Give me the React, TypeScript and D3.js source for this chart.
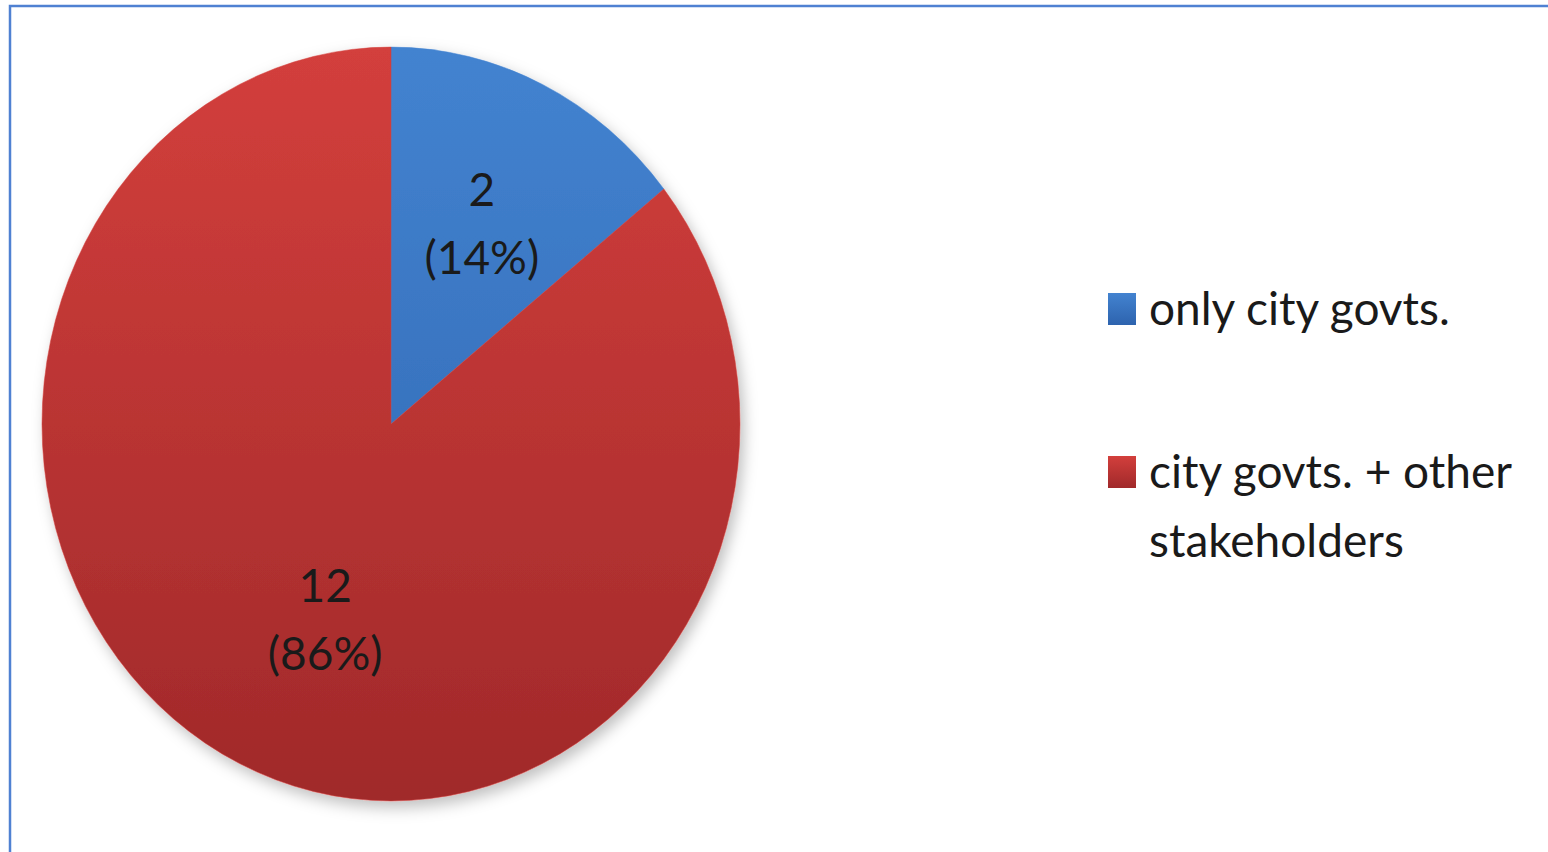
import { useEffect, useRef } from "react";
import * as d3 from "d3";

const categories = ["only city govts.", "city govts. + other stakeholders"];
const values = [2, 12];
const percents = ["14%", "86%"];
const legendLines = [["only city govts."], ["city govts. + other", "stakeholders"]];

const COLORS = [
  { top: "#4383d0", bottom: "#2d63ae" },
  { top: "#d33f3c", bottom: "#a0292a" },
];

// Excel nudges the labels a little off the centroid
const LABEL_NUDGE = [
  [0, 0],
  [25, -12],
];

const W = 1548;
const H = 852;
const CX = 391;
const CY = 424;
const R = 349;
const STRETCH = 1.08;
const FONT = "Lato, 'Open Sans', sans-serif";

export default function App() {
  const svgRef = useRef<SVGSVGElement>(null);

  useEffect(() => {
    document.body.style.margin = "0";
    if (!svgRef.current) return;
    const svg = d3.select(svgRef.current);
    svg.selectAll("*").remove();

    const defs = svg.append("defs");
    COLORS.forEach((c, i) => {
      const grad = defs.append("linearGradient")
        .attr("id", `grad-${i}`)
        .attr("gradientUnits", "userSpaceOnUse")
        .attr("x1", 0).attr("y1", -R)
        .attr("x2", 0).attr("y2", R);
      grad.append("stop").attr("offset", "0%").attr("stop-color", c.top);
      grad.append("stop").attr("offset", "100%").attr("stop-color", c.bottom);

      const lg = defs.append("linearGradient").attr("id", `leg-${i}`)
        .attr("x1", 0).attr("y1", 0).attr("x2", 0).attr("y2", 1);
      lg.append("stop").attr("offset", "0%").attr("stop-color", c.top);
      lg.append("stop").attr("offset", "100%").attr("stop-color", c.bottom);
    });
    const shadow = defs.append("filter").attr("id", "shadow")
      .attr("x", "-10%").attr("y", "-10%").attr("width", "125%").attr("height", "125%");
    shadow.append("feDropShadow")
      .attr("dx", 4).attr("dy", 6).attr("stdDeviation", 7)
      .attr("flood-color", "#000").attr("flood-opacity", 0.25);

    // frame
    svg.append("rect")
      .attr("x", 10).attr("y", 6)
      .attr("width", W + 20).attr("height", H + 20)
      .attr("fill", "#fff")
      .attr("stroke", "#4f81d2")
      .attr("stroke-width", 2.5);

    const pie = d3.pie<number>().sort(null).value((d) => d);
    const arcs = pie(values);
    const arc = d3.arc<d3.PieArcDatum<number>>().innerRadius(0).outerRadius(R);
    const labelArc = d3.arc<d3.PieArcDatum<number>>().innerRadius(R * 0.6).outerRadius(R * 0.6);

    const g = svg.append("g")
      .attr("transform", `translate(${CX},${CY}) scale(1,${STRETCH})`);

    g.append("g").attr("filter", "url(#shadow)")
      .selectAll("path")
      .data(arcs)
      .join("path")
      .attr("d", arc)
      .attr("fill", (_d, i) => `url(#grad-${i})`)
      .attr("stroke", (_d, i) => COLORS[i].top)
      .attr("stroke-width", 0.5);

    // data labels
    const total = d3.sum(values);
    arcs.forEach((a, i) => {
      const [lx, ly] = labelArc.centroid(a);
      const x = CX + lx + LABEL_NUDGE[i][0];
      const y = CY + ly * STRETCH + LABEL_NUDGE[i][1];
      const t = svg.append("text")
        .attr("x", x).attr("y", y)
        .attr("text-anchor", "middle")
        .attr("font-family", FONT)
        .attr("font-size", 46)
        .attr("fill", "#1a1a1a");
      t.append("tspan").attr("x", x).attr("dy", -14).text(String(a.data));
      t.append("tspan").attr("x", x).attr("dy", 68)
        .text(`(${percents[i] ?? d3.format(".0%")(a.data / total)})`);
    });

    // legend
    const legendY = [325, 488];
    const leg = svg.append("g");
    categories.forEach((_c, i) => {
      leg.append("rect")
        .attr("x", 1108).attr("y", legendY[i] - 32)
        .attr("width", 28).attr("height", 32)
        .attr("fill", `url(#leg-${i})`);
      legendLines[i].forEach((line, j) => {
        leg.append("text")
          .attr("x", 1149).attr("y", legendY[i] + j * 69)
          .attr("font-family", FONT)
          .attr("font-size", 46)
          .attr("fill", "#1a1a1a")
          .text(line);
      });
    });
  }, []);

  return (
    <svg
      ref={svgRef}
      width={W}
      height={H}
      style={{ position: "absolute", left: 0, top: 0, display: "block" }}
    />
  );
}
